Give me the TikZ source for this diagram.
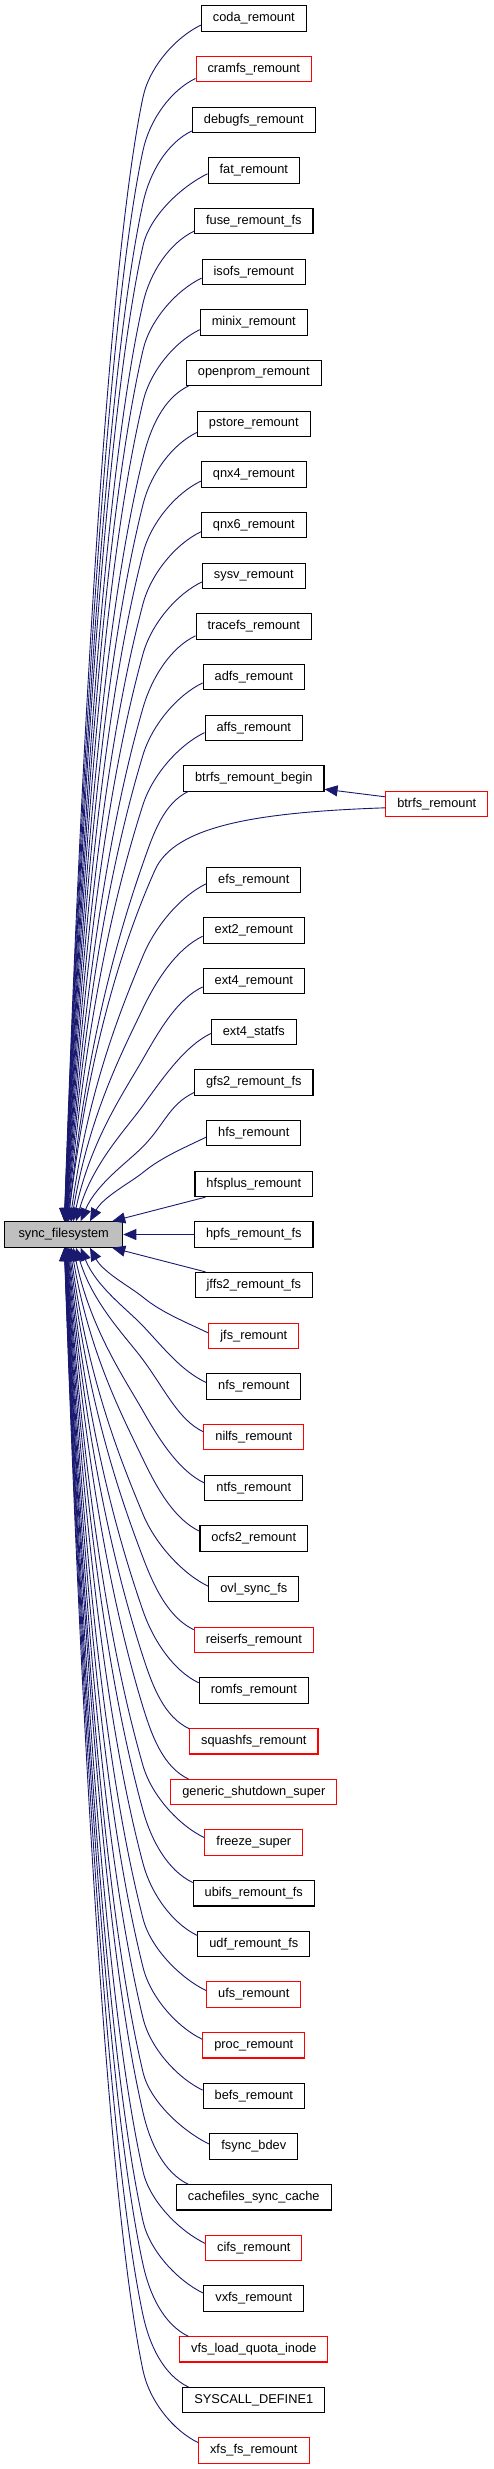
\documentclass[tikz,border=0pt]{standalone}
\usepackage{fontspec}
\setmainfont{Liberation Sans}
\usetikzlibrary{arrows.meta,calc}
\definecolor{edgecol}{RGB}{25,25,112}
\definecolor{redcol}{RGB}{255,0,0}
\definecolor{graycol}{RGB}{191,191,191}
\tikzset{
  box/.style={draw=black, line width=1.1pt, fill=white, minimum height=25.5pt,
    inner xsep=11.5pt, inner ysep=0pt, font=\fontsize{12.8}{15}\selectfont},
  redbox/.style={box, draw=redcol},
  edge/.style={draw=edgecol, line width=0.9pt, -{Triangle[length=13pt,width=11pt]}, fill=none},
}
\newcommand\rn[4]{\node[#4] (#1) at (253.8,{-(18.5+50.667*(#2))}) {#3};}
\newcommand\fedge[3]{%
  \path (#1.west); \pgfgetlastxy{\fxa}{\fya}%
  \ifnum#3<0 \def\fanc{north west}\else\def\fanc{south west}\fi
  \path (sync.\fanc); \pgfgetlastxy{\fxw}{\fye}%
  \pgfmathsetmacro\fg{#3}%
  \pgfmathsetmacro\foff{min(12.75,6.2+0.5*(201.7-(\fxa)))}%
  \pgfmathsetmacro\fxs{max(\fxa,188.6)}%
  \pgfmathsetmacro\fdx{(\fxs)-(\fxa)}%
  \pgfmathsetmacro\fsy{(\fg)*(\foff)}%
  \pgfmathsetmacro\fys{(\fya)+(\fsy)}%
  \pgfmathsetmacro\fD{(\fg)*((\fye)-(\fys))}%
  \pgfmathsetmacro\fdy{min(72,0.42*(\fD))}%
  \pgfmathsetmacro\fyM{(\fys)+(\fg)*(\fdy)}%
  \pgfmathsetmacro\fDD{(\fD)-(\fdy)}%
  \pgfmathsetmacro\fxe{62+56/#2}%
  \pgfmathsetmacro\fsl{(143-(\fxe))/(\fDD)+0.14}%
  \pgfmathsetmacro\fk{0.42*(\fdy)}%
  \pgfmathsetmacro\fka{min(150,0.2*(\fDD))}%
  \pgfmathsetmacro\fkb{0.5*(\fDD)}%
  \pgfmathsetmacro\fsE{0.5*(143-(\fxe))/(\fDD)}%
  \pgfmathsetmacro\faY{(\fg)*12}%
  \pgfmathsetmacro\fbX{(\fsl)*(\fk)}\pgfmathsetmacro\fbY{0-(\fg)*(\fk)}%
  \pgfmathsetmacro\fcX{0-(\fsl)*(\fka)}\pgfmathsetmacro\fcY{(\fg)*(\fka)}%
  \pgfmathsetmacro\fdX{(\fsE)*(\fkb)}\pgfmathsetmacro\fdY{0-(\fg)*(\fkb)}%
  \pgfmathsetmacro\fex{(\fxe)-(\fxw)}%
  \draw[edge] ($(#1.west)+(\fdx,\fsy)$) .. controls +(-25,\faY) and +(\fbX,\fbY) .. (143,\fyM) .. controls +(\fcX,\fcY) and +(\fdX,\fdY) .. ($(sync.\fanc)+(\fex,0)$);
}
\begin{document}
\begin{tikzpicture}[x=1pt,y=1pt]
\useasboundingbox (0,0) rectangle (493,-2469);
\fill[white] (0,0) rectangle (493,-2469);
\node[box, fill=graycol, minimum width=118pt] (sync) at (63.7,-1234.5) {sync\_filesystem};
\rn{n0}{0}{coda\_remount}{box}
\rn{n1}{1}{cramfs\_remount}{redbox}
\rn{n2}{2}{debugfs\_remount}{box}
\rn{n3}{3}{fat\_remount}{box}
\rn{n4}{4}{fuse\_remount\_fs}{box}
\rn{n5}{5}{isofs\_remount}{box}
\rn{n6}{6}{minix\_remount}{box}
\rn{n7}{7}{openprom\_remount}{box}
\rn{n8}{8}{pstore\_remount}{box}
\rn{n9}{9}{qnx4\_remount}{box}
\rn{n10}{10}{qnx6\_remount}{box}
\rn{n11}{11}{sysv\_remount}{box}
\rn{n12}{12}{tracefs\_remount}{box}
\rn{n13}{13}{adfs\_remount}{box}
\rn{n14}{14}{affs\_remount}{box}
\rn{n15}{15}{btrfs\_remount\_begin}{box}
\node[redbox] (btr) at (436.8,-803.8) {btrfs\_remount};
\rn{n17}{17}{efs\_remount}{box}
\rn{n18}{18}{ext2\_remount}{box}
\rn{n19}{19}{ext4\_remount}{box}
\rn{n20}{20}{ext4\_statfs}{box}
\rn{n21}{21}{gfs2\_remount\_fs}{box}
\rn{n22}{22}{hfs\_remount}{box}
\rn{n23}{23}{hfsplus\_remount}{box}
\rn{n24}{24}{hpfs\_remount\_fs}{box}
\rn{n25}{25}{jffs2\_remount\_fs}{box}
\rn{n26}{26}{jfs\_remount}{redbox}
\rn{n27}{27}{nfs\_remount}{box}
\rn{n28}{28}{nilfs\_remount}{redbox}
\rn{n29}{29}{ntfs\_remount}{box}
\rn{n30}{30}{ocfs2\_remount}{box}
\rn{n31}{31}{ovl\_sync\_fs}{box}
\rn{n32}{32}{reiserfs\_remount}{redbox}
\rn{n33}{33}{romfs\_remount}{box}
\rn{n34}{34}{squashfs\_remount}{redbox}
\rn{n35}{35}{generic\_shutdown\_super}{redbox}
\rn{n36}{36}{freeze\_super}{redbox}
\rn{n37}{37}{ubifs\_remount\_fs}{box}
\rn{n38}{38}{udf\_remount\_fs}{box}
\rn{n39}{39}{ufs\_remount}{redbox}
\rn{n40}{40}{proc\_remount}{redbox}
\rn{n41}{41}{befs\_remount}{box}
\rn{n42}{42}{fsync\_bdev}{box}
\rn{n43}{43}{cachefiles\_sync\_cache}{box}
\rn{n44}{44}{cifs\_remount}{redbox}
\rn{n45}{45}{vxfs\_remount}{box}
\rn{n46}{46}{vfs\_load\_quota\_inode}{redbox}
\rn{n47}{47}{SYSCALL\_DEFINE1}{box}
\rn{n48}{48}{xfs\_fs\_remount}{redbox}
% upper edges
\fedge{n0}{24}{-1}
\fedge{n1}{23}{-1}
\fedge{n2}{22}{-1}
\fedge{n3}{21}{-1}
\fedge{n4}{20}{-1}
\fedge{n5}{19}{-1}
\fedge{n6}{18}{-1}
\fedge{n7}{17}{-1}
\fedge{n8}{16}{-1}
\fedge{n9}{15}{-1}
\fedge{n10}{14}{-1}
\fedge{n11}{13}{-1}
\fedge{n12}{12}{-1}
\fedge{n13}{11}{-1}
\fedge{n14}{10}{-1}
\fedge{n15}{9}{-1}
\fedge{n17}{7}{-1}
\fedge{n18}{6}{-1}
\fedge{n19}{5}{-1}
\fedge{n20}{4}{-1}
\fedge{n21}{3}{-1}
\fedge{n22}{2}{-1}
\draw[edge] ($(n23.south west)+(11,0)$) -- ($(sync.north east)+(-11,0)$);
\draw[edge] (n24.west) -- (sync.east);
\draw[edge] ($(n25.north west)+(11,0)$) -- ($(sync.south east)+(-11,0)$);
% btrfs
\draw[edge] ($(btr.west)+(0,7)$) -- ($(n15.east)+(0,-10.7)$);
\draw[edge] ($(btr.west)+(0,-4)$) .. controls +(-125,-4.3) and (175,-825) .. (155,-870) .. controls +(-31.3,-70.4) and +(21.6,176) .. ($(sync.north west)+(63.9,0)$);
% lower edges
\fedge{n26}{2}{1}
\fedge{n27}{3}{1}
\fedge{n28}{4}{1}
\fedge{n29}{5}{1}
\fedge{n30}{6}{1}
\fedge{n31}{7}{1}
\fedge{n32}{8}{1}
\fedge{n33}{9}{1}
\fedge{n34}{10}{1}
\fedge{n35}{11}{1}
\fedge{n36}{12}{1}
\fedge{n37}{13}{1}
\fedge{n38}{14}{1}
\fedge{n39}{15}{1}
\fedge{n40}{16}{1}
\fedge{n41}{17}{1}
\fedge{n42}{18}{1}
\fedge{n43}{19}{1}
\fedge{n44}{20}{1}
\fedge{n45}{21}{1}
\fedge{n46}{22}{1}
\fedge{n47}{23}{1}
\fedge{n48}{24}{1}
\end{tikzpicture}
\end{document}
